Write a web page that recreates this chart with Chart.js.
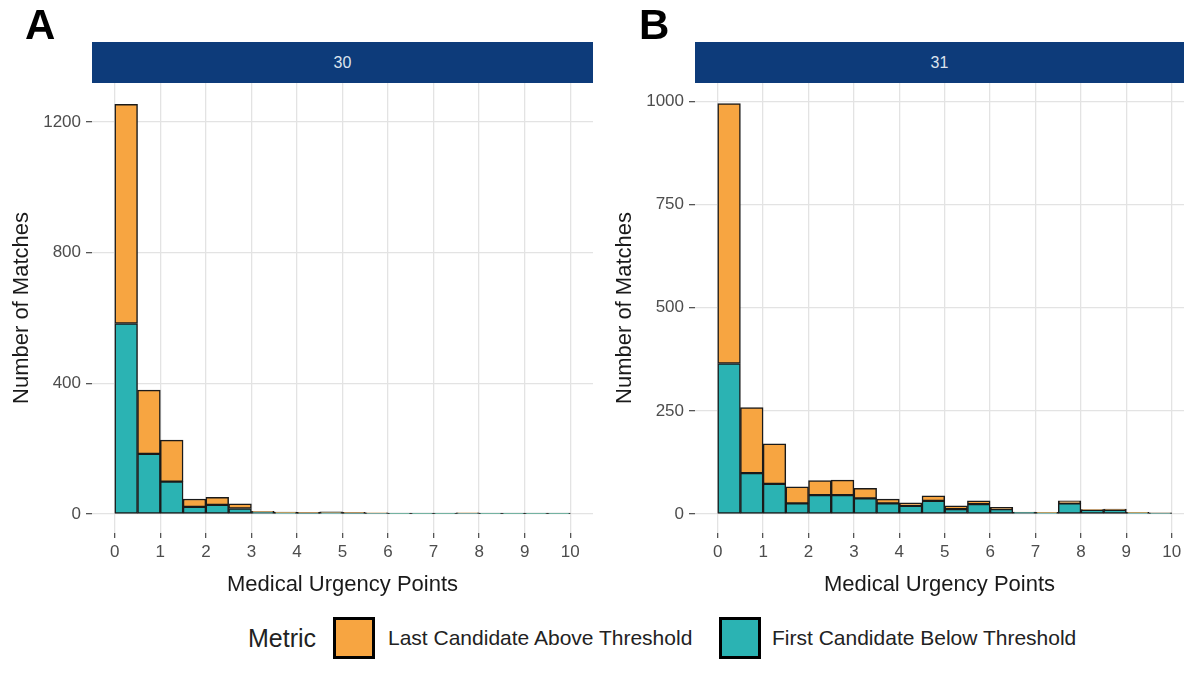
<!DOCTYPE html>
<html>

<head>
    <meta charset='utf-8'>
    <title>Medical Urgency Points</title>
    <script src="https://cdn.jsdelivr.net/npm/chart.js@4.4.1/dist/chart.umd.min.js"></script>
    <style>
        body { margin: 0; background: #fff; font-family: "Liberation Sans", Arial, sans-serif; }
        #wrap { position: relative; width: 1188px; height: 677px; overflow: hidden; }
        canvas { position: absolute; top: 0; }
        .letter { position: absolute; top: 4px; font-size: 42px; line-height: 42px; font-weight: bold; color: #000; }
        .strip { position: absolute; top: 42px; height: 41px; background: #0d3b7a; color: #dce4ee;
                 font-size: 16px; display: flex; align-items: center; justify-content: center; }
        .leg { position: absolute; top: 617px; height: 42px; display: flex; align-items: center; color: #222; white-space: nowrap; }
        .sw { position: absolute; top: 617px; width: 36px; height: 36px; border: 3px solid #000; }
    </style>
</head>

<body>
    <div id="wrap">
        <canvas id="chartA" width="600" height="600" style="left:0"></canvas>
        <canvas id="chartB" width="588" height="600" style="left:600px"></canvas>

        <div class="letter" style="left:25px">A</div>
        <div class="letter" style="left:639px">B</div>
        <div class="strip" style="left:92px;width:501px">30</div>
        <div class="strip" style="left:695px;width:489px">31</div>

        <div class="leg" style="left:248px;font-size:25px">Metric</div>
        <div class="sw" style="left:333px;background:#F7A541"></div>
        <div class="leg" style="left:388px;font-size:21px">Last Candidate Above Threshold</div>
        <div class="sw" style="left:719px;background:#2BB3B3"></div>
        <div class="leg" style="left:772px;font-size:21px">First Candidate Below Threshold</div>
    </div>

    <script>
        // bins of width 0.5 on the urgency axis
        const binCenters = [0.25, 0.75, 1.25, 1.75, 2.25, 2.75, 3.25, 3.75, 4.25, 4.75,
                            5.25, 5.75, 6.25, 6.75, 7.25, 7.75, 8.25, 8.75, 9.25, 9.75];

        // panel A (30)
        const belowA = [583, 184, 99, 22, 28, 17, 5, 4, 3, 4, 3, 3, 2, 2, 2, 3, 2, 2, 2, 2];
        const aboveA = [671, 195, 127, 24, 23, 14, 3, 2, 2, 3, 2, 1, 1, 1, 1, 1, 1, 1, 1, 1];

        // panel B (31)
        const belowB = [365, 99, 73, 26, 46, 46, 38, 26, 20, 32, 12, 24, 12, 4, 3, 26, 10, 10, 3, 2];
        const aboveB = [630, 159, 97, 40, 35, 36, 24, 10, 7, 12, 8, 8, 4, 1, 1, 6, 1, 2, 1, 1];

        const xTicks = [0, 1, 2, 3, 4, 5, 6, 7, 8, 9, 10];
        const yTicksA = [0, 400, 800, 1200];
        const yTicksB = [0, 250, 500, 750, 1000];

        const orange = '#F7A541';
        const teal = '#2BB3B3';
        const gridCol = '#e3e3e3';

        function toPoints(vals) {
            return vals.map((v, i) => ({ x: binCenters[i], y: v }));
        }

        function makePanel(id, below, above, yTicks, opts) {
            const ctx = document.getElementById(id).getContext('2d');
            const barStyle = {
                borderColor: '#1a1a1a',
                borderWidth: 1.5,
                borderSkipped: false,
                barPercentage: 1,
                categoryPercentage: 1
            };
            return new Chart(ctx, {
                type: 'bar',
                data: {
                    datasets: [
                        Object.assign({ label: 'First Candidate Below Threshold', data: toPoints(below), backgroundColor: teal }, barStyle),
                        Object.assign({ label: 'Last Candidate Above Threshold', data: toPoints(above), backgroundColor: orange }, barStyle)
                    ]
                },
                options: {
                    responsive: false,
                    animation: false,
                    devicePixelRatio: 1,
                    layout: { padding: { top: 83, right: opts.padRight, bottom: 0, left: 0 } },
                    plugins: { legend: { display: false }, tooltip: { enabled: false } },
                    scales: {
                        x: {
                            type: 'linear',
                            stacked: true,
                            offset: false,
                            min: -0.5,
                            max: opts.xMax,
                            afterBuildTicks: s => { s.ticks = xTicks.map(v => ({ value: v })); },
                            afterFit: s => { s.height = 67; },
                            border: { display: false },
                            grid: { offset: false, color: gridCol, lineWidth: 1.3, tickColor: '#555', tickWidth: 1.3, tickLength: 5 },
                            ticks: { color: '#4d4d4d', padding: 4, maxRotation: 0, callback: v => String(v), font: { family: 'Liberation Sans', size: 17 } },
                            title: {
                                display: true, text: 'Medical Urgency Points', color: '#1a1a1a',
                                padding: { top: 4, bottom: 2 },
                                font: { family: 'Liberation Sans', size: 22 }
                            }
                        },
                        y: {
                            stacked: true,
                            min: opts.yMin,
                            max: opts.yMax,
                            afterBuildTicks: s => { s.ticks = yTicks.map(v => ({ value: v })); },
                            afterFit: s => { s.width = opts.yWidth; },
                            border: { display: false },
                            grid: { color: gridCol, lineWidth: 1.3, tickColor: '#555', tickWidth: 1.3, tickLength: 6 },
                            ticks: { color: '#4d4d4d', padding: 5, callback: v => String(v), font: { family: 'Liberation Sans', size: 17 } },
                            title: {
                                display: true, text: 'Number of Matches', color: '#1a1a1a',
                                padding: { top: opts.titlePad, bottom: 4 },
                                font: { family: 'Liberation Sans', size: 22 }
                            }
                        }
                    }
                }
            });
        }

        makePanel('chartA', belowA, aboveA, yTicksA,
            { yMin: -58, yMax: 1319, xMax: 10.5, yWidth: 92, padRight: 7, titlePad: 9 });
        makePanel('chartB', belowB, aboveB, yTicksB,
            { yMin: -46, yMax: 1045, xMax: 10.27, yWidth: 95, padRight: 4, titlePad: 12 });
    </script>
</body>

</html>
